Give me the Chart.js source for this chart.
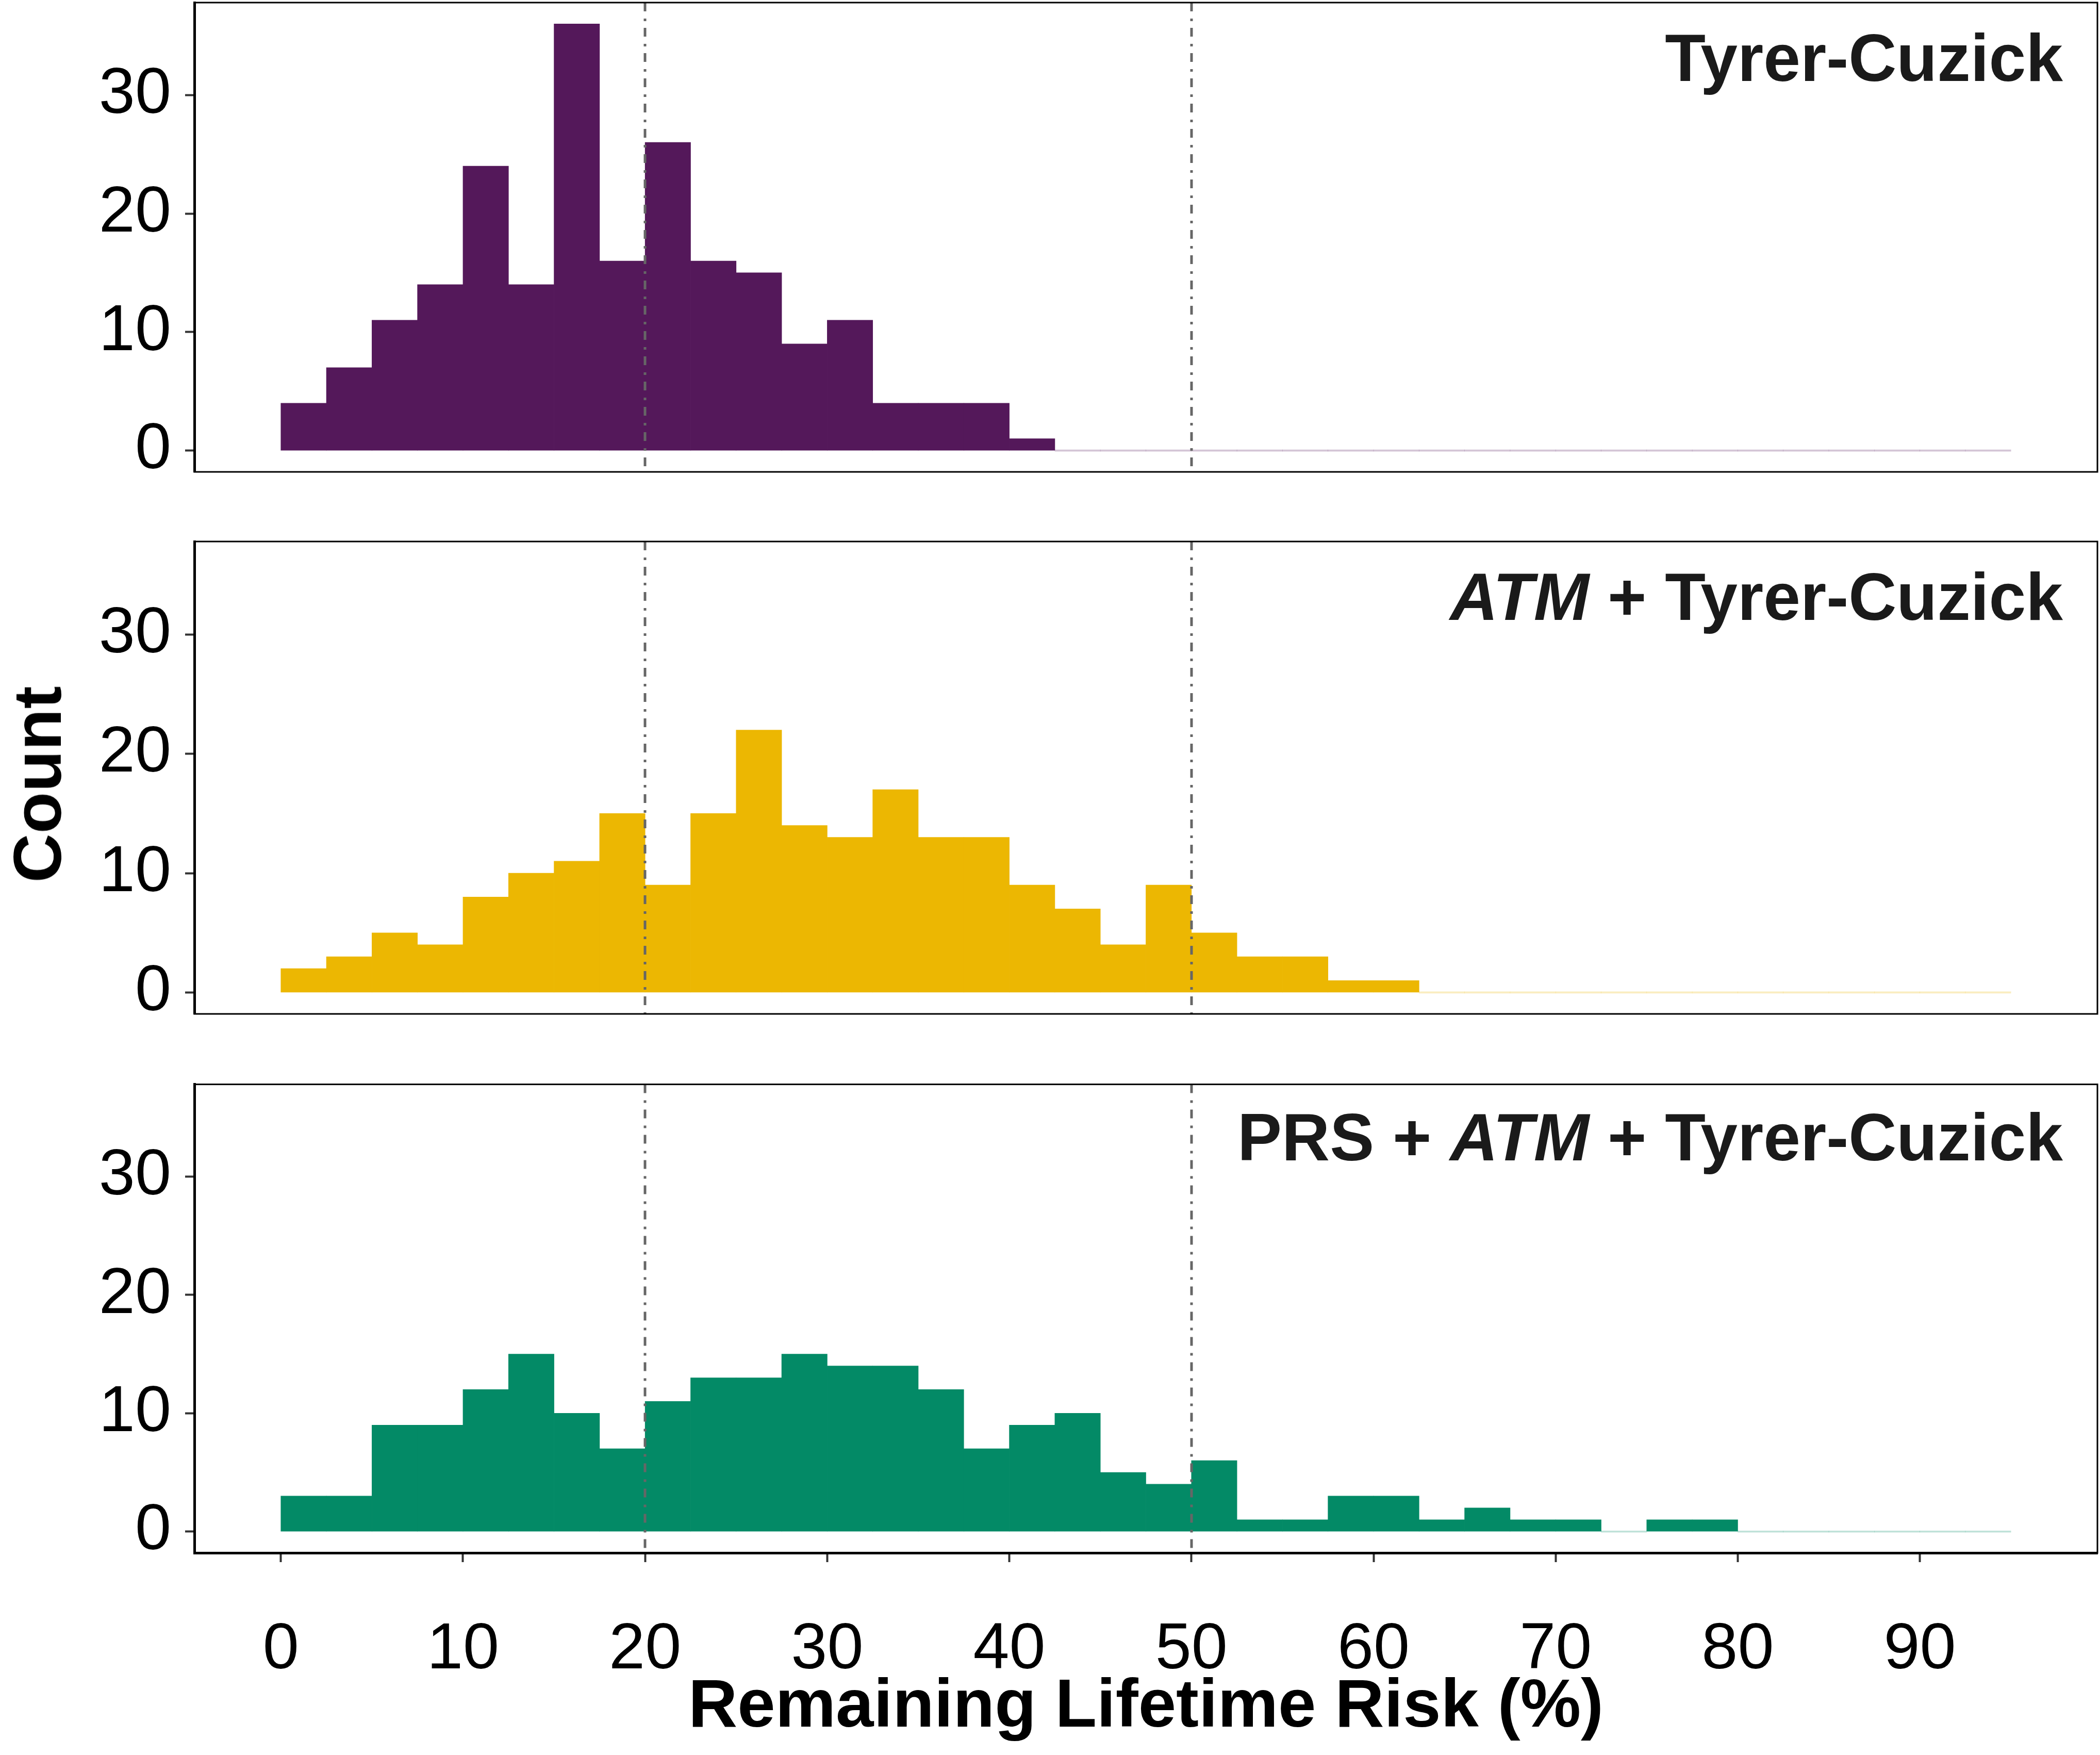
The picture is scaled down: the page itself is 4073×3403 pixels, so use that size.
<!DOCTYPE html>
<html>
<head>
<meta charset="utf-8">
<script src="https://cdn.jsdelivr.net/npm/chart.js@4.4.1/dist/chart.umd.min.js"></script>
<style>
  html, body { margin: 0; padding: 0; background: #fff; }
  body { width: 4073px; height: 3403px; position: relative; overflow: hidden; font-family: "Liberation Sans", Arial, sans-serif; }
  canvas { position: absolute; left: 0; }
  .panel-label { position: absolute; right: 72px; font-weight: bold; font-size: 129px; line-height: 1; color: #1a1a1a; white-space: nowrap; }
  #count { position: absolute; left: 73px; top: 1521px; font-weight: bold; font-size: 132px; line-height: 1; color: #000;
           transform: translate(-50%, -50%) rotate(-90deg); white-space: nowrap; }
</style>
</head>
<body>
<canvas id="c1" width="4073" height="1150" style="top:-115px;width:4073px;height:1150px"></canvas>
<canvas id="c2" width="4073" height="1156" style="top:930px;width:4073px;height:1156px"></canvas>
<canvas id="c3" width="4073" height="1403" style="top:2000px;width:4073px;height:1403px"></canvas>

<div class="panel-label" style="top:48px">Tyrer-Cuzick</div>
<div class="panel-label" style="top:1093px"><i>ATM</i> + Tyrer-Cuzick</div>
<div class="panel-label" style="top:2141px">PRS + <i>ATM</i> + Tyrer-Cuzick</div>
<div id="count">Count</div>

<script>
// histogram bins (left edges, width 2.5)
const binWidth = 2.5;
const binStarts = [0, 2.5, 5, 7.5, 10, 12.5, 15, 17.5, 20, 22.5, 25, 27.5, 30, 32.5, 35, 37.5, 40, 42.5, 45, 47.5,
                   50, 52.5, 55, 57.5, 60, 62.5, 65, 67.5, 70, 72.5, 75, 77.5, 80, 82.5, 85, 87.5, 90, 92.5];

const tcCounts  = [4, 7, 11, 14, 24, 14, 36, 16, 26, 16, 15, 9, 11, 4, 4, 4, 1, 0, 0, 0,
                   0, 0, 0, 0, 0, 0, 0, 0, 0, 0, 0, 0, 0, 0, 0, 0, 0, 0];
const atmCounts = [2, 3, 5, 4, 8, 10, 11, 15, 9, 15, 22, 14, 13, 17, 13, 13, 9, 7, 4, 9,
                   5, 3, 3, 1, 1, 0, 0, 0, 0, 0, 0, 0, 0, 0, 0, 0, 0, 0];
const prsCounts = [3, 3, 9, 9, 12, 15, 10, 7, 11, 13, 13, 15, 14, 14, 12, 7, 9, 10, 5, 4,
                   6, 1, 1, 3, 3, 1, 2, 1, 1, 0, 1, 1, 0, 0, 0, 0, 0, 0];

const xTicks = [0, 10, 20, 30, 40, 50, 60, 70, 80, 90];
const yTicks = [0, 10, 20, 30];
const refLines = [20, 50];

const xRange = [-4.75, 99.75];
const yRange = [-1.8, 37.8];

const tickFont = { family: '"Liberation Sans", Arial, sans-serif', size: 126 };
const titleFont = { family: '"Liberation Sans", Arial, sans-serif', size: 132, weight: 'bold' };

// dash-dot threshold lines and the panel frame
const panelPlugin = {
    id: 'panel',
    afterDatasetsDraw(chart) {
        const ctx = chart.ctx;
        const area = chart.chartArea;
        const x = chart.scales.x;
        ctx.save();
        ctx.strokeStyle = '#666666';
        ctx.lineWidth = 5;
        ctx.lineCap = 'butt';
        ctx.setLineDash([17, 14, 5, 13]);
        refLines.forEach(v => {
            const px = Math.round(x.getPixelForValue(v));
            ctx.beginPath();
            ctx.moveTo(px, area.top);
            ctx.lineTo(px, area.bottom);
            ctx.stroke();
        });
        ctx.restore();
    },
    afterDraw(chart) {
        const ctx = chart.ctx;
        const a = chart.chartArea;
        ctx.save();
        ctx.strokeStyle = '#000';
        ctx.lineWidth = 3;
        ctx.strokeRect(a.left, a.top, a.right - a.left, a.bottom - a.top);
        ctx.restore();
    }
};

function makeChart(id, counts, color, faint, padding, showX) {
    return new Chart(document.getElementById(id), {
        type: 'bar',
        data: {
            datasets: [{
                data: binStarts.map((s, i) => ({ x: s + binWidth / 2, y: counts[i] })),
                backgroundColor: c => (c.raw && c.raw.y === 0) ? faint : color,
                borderWidth: 0,
                barPercentage: 1,
                categoryPercentage: 1,
                minBarLength: 3
            }]
        },
        options: {
            responsive: false,
            animation: false,
            devicePixelRatio: 1,
            layout: { padding: padding },
            plugins: { legend: { display: false }, tooltip: { enabled: false } },
            scales: {
                x: {
                    type: 'linear',
                    min: xRange[0],
                    max: xRange[1],
                    offset: false,
                    display: showX,
                    afterBuildTicks: axis => { axis.ticks = xTicks.map(v => ({ value: v })); },
                    afterFit: axis => { axis.height = showX ? 392 : 0; },
                    ticks: { font: tickFont, color: '#000', padding: 96, autoSkip: false, maxRotation: 0 },
                    grid: { offset: false, drawOnChartArea: false, tickLength: 18, tickColor: '#333', tickWidth: 4 },
                    border: { display: true, color: '#000', width: 5 },
                    title: {
                        display: true,
                        text: 'Remaining Lifetime Risk (%)',
                        font: titleFont,
                        color: '#000',
                        padding: { top: 12, bottom: 12 }
                    }
                },
                y: {
                    type: 'linear',
                    min: yRange[0],
                    max: yRange[1],
                    afterBuildTicks: axis => { axis.ticks = yTicks.map(v => ({ value: v })); },
                    afterFit: axis => { axis.width = 377; },
                    ticks: { font: tickFont, color: '#000', padding: 27, autoSkip: false },
                    grid: { drawOnChartArea: false, tickLength: 18, tickColor: '#333', tickWidth: 4 },
                    border: { display: true, color: '#000', width: 5 }
                }
            }
        },
        plugins: [panelPlugin]
    });
}

makeChart('c1', tcCounts, '#54185A', 'rgba(84, 24, 90, 0.25)', { left: 0, right: 5, top: 120, bottom: 120 }, false);
makeChart('c2', atmCounts, '#ECB702', 'rgba(236, 183, 2, 0.25)', { left: 0, right: 5, top: 120, bottom: 120 }, false);
makeChart('c3', prsCounts, '#038A66', 'rgba(3, 138, 102, 0.25)', { left: 0, right: 5, top: 98, bottom: 0 }, true);
</script>
</body>
</html>
